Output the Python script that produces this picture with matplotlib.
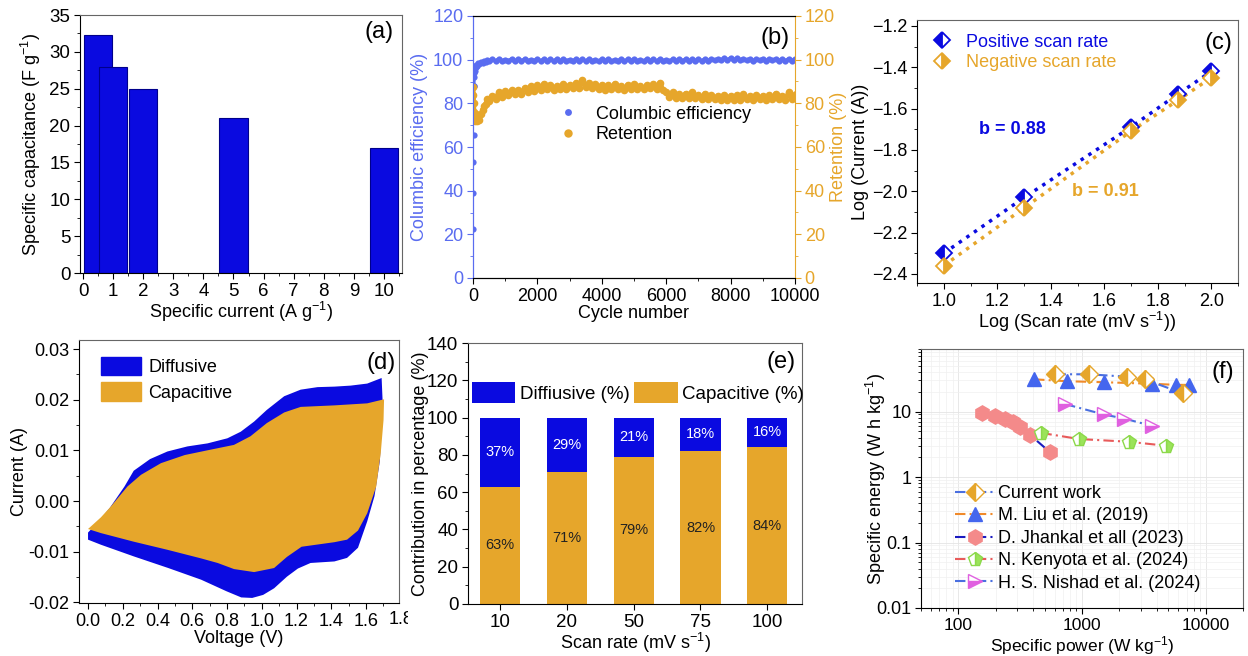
import numpy as np
import matplotlib
matplotlib.use("Agg")
import matplotlib.pyplot as plt
from matplotlib.patches import Patch
from matplotlib.transforms import Bbox
from matplotlib.ticker import (MultipleLocator, FixedLocator, FixedFormatter, LogLocator,
                               NullFormatter, FormatStrFormatter)

plt.rcParams["font.family"] = ["Liberation Sans", "DejaVu Sans"]
plt.rcParams["mathtext.fontset"] = "custom"
plt.rcParams["mathtext.rm"] = "Liberation Sans"
plt.rcParams["mathtext.default"] = "regular"
plt.rcParams["font.size"] = 13
plt.rcParams["xtick.direction"] = "out"
plt.rcParams["ytick.direction"] = "out"
plt.rcParams["xtick.major.size"] = 4.5
plt.rcParams["ytick.major.size"] = 4.5
plt.rcParams["xtick.minor.size"] = 2.5
plt.rcParams["ytick.minor.size"] = 2.5
plt.rcParams["xtick.major.pad"] = 2.5
plt.rcParams["ytick.major.pad"] = 2.5

BLUE = "#0a0ae0"
ORANGE = "#e6a62b"
LBLUE = "#5a6cf0"

# ---------------- (a) specific capacitance ----------------
cur_density = [0.5, 1, 2, 5, 10]
capacitance = [32.3, 28.0, 25.0, 21.0, 17.0]

# ---------------- (b) cycling ----------------
ce_early_cyc = [5, 10, 15, 20, 25, 30, 40, 50, 60, 80, 100, 130, 160, 200, 250, 300, 350, 400, 450]
ce_early = [22.5, 39, 53, 65.5, 88, 92, 94, 95, 96, 96.5, 97.5, 97, 98.5, 98, 99, 98.6, 99.5, 99, 99.8]
ce_main = [99.3, 100.1, 99.5, 100.2, 99.4, 100.0, 99.6, 100.3, 99.4, 100.1,
           99.5, 100.2, 99.4, 100.0, 99.6, 100.3, 99.5, 100.1, 99.4, 100.2,
           99.5, 100.1, 99.3, 100.2, 99.6, 100.0, 99.4, 100.3, 99.5, 100.1,
           99.4, 100.2, 99.5, 100.0, 99.3, 100.1, 99.6, 100.2, 99.4, 100.0,
           99.5, 100.3, 99.4, 100.1, 99.6, 100.2, 99.5, 100.0, 99.4, 100.2,
           99.6, 100.1, 99.4, 100.3, 99.5, 100.0, 99.4, 100.2, 99.6, 100.1,
           99.5, 100.2, 99.4, 100.1, 99.6, 100.3, 99.5, 100.2, 99.6, 100.4,
           99.7, 100.3, 99.8, 100.6, 99.9, 100.8, 100.0, 100.6, 99.8, 100.5,
           99.7, 100.4, 99.6, 100.3, 99.7, 100.5, 99.6, 100.3, 99.7, 100.4,
           99.6, 100.3, 99.5, 100.4, 99.6, 100.2]
ret_early_cyc = [1, 10, 20, 30, 50, 70, 100, 130, 160, 200, 250, 300, 350, 400, 450]
ret_early = [87.5, 84, 80, 76, 74, 72, 75, 72, 74.5, 72.5, 75, 77, 79, 79.5, 82]
ret_main = [81, 83.5, 82, 85, 83, 85.5, 84, 86, 84.5, 86,
            84.5, 87, 85, 88, 85.5, 88.5, 86, 89, 86.5, 88.5,
            86, 88, 86.5, 89, 86.5, 88.5, 87, 89.5, 87, 90.5,
            87.5, 89.5, 87, 89, 86.5, 88.5, 86, 88.5, 86.5, 89,
            86.5, 88, 86, 88.5, 86.5, 89, 86.5, 88, 86.5, 88.5,
            87, 89, 86.5, 89.5, 86, 85, 83, 85, 82.5, 84.5,
            82.5, 84.5, 82.5, 85, 82.5, 84, 82, 84.5, 82, 84,
            82, 83.5, 81.5, 84, 81.5, 83.5, 81.5, 84, 81.5, 84.5,
            82, 83.5, 81.5, 84, 82, 83.5, 81.5, 84, 82, 84.5,
            82, 83.5, 81.5, 85, 82, 84]
main_cyc = list(range(500, 10001, 100))

# ---------------- (c) b-value ----------------
log_scan = [1.0, 1.301, 1.699, 1.875, 2.0]
log_i_pos = [-2.30, -2.03, -1.69, -1.53, -1.42]
log_i_neg = [-2.36, -2.08, -1.71, -1.56, -1.45]

# ---------------- (d) CV separation (outline of total and capacitive loops) ----------------
tot_v = [0.00, 0.074, 0.126, 0.21, 0.263, 0.357, 0.457, 0.572, 0.688, 0.802, 0.879, 0.956, 1.029,
         1.129, 1.224, 1.321, 1.418, 1.512, 1.607, 1.69,
         1.696, 1.68, 1.649, 1.607, 1.554, 1.491, 1.418, 1.281, 1.208, 1.145, 1.071, 1.008, 0.945,
         0.882, 0.798, 0.651, 0.462, 0.263, 0.074, 0.0]
tot_i = [-0.0062, -0.0035, -0.0013, 0.0029, 0.0060, 0.0083, 0.0098, 0.0108, 0.0114, 0.0124, 0.0137,
         0.0157, 0.0180, 0.0207, 0.0220, 0.0225, 0.0226, 0.0228, 0.0232, 0.0243,
         0.0195, 0.0080, 0.0010, -0.0040, -0.0092, -0.0112, -0.0119, -0.0122, -0.0133, -0.0149,
         -0.0172, -0.0185, -0.0191, -0.0190, -0.0178, -0.0155, -0.0132, -0.0109, -0.0086, -0.0076]
cap_v = [0.00, 0.074, 0.13, 0.227, 0.305, 0.42, 0.557, 0.683, 0.84, 0.935, 1.029, 1.129, 1.224,
         1.418, 1.607, 1.704, 1.701, 1.685, 1.659, 1.607, 1.554, 1.491, 1.418, 1.229, 1.145, 1.071,
         0.956, 0.84, 0.746, 0.651, 0.457, 0.263, 0.074, 0.0]
cap_i = [-0.0055, -0.0032, -0.0011, 0.0029, 0.0052, 0.0075, 0.0091, 0.0100, 0.0111, 0.0128, 0.0154,
         0.0175, 0.0186, 0.0189, 0.0193, 0.0201, 0.0160, 0.0095, 0.0029, -0.0024, -0.0058, -0.0076,
         -0.0081, -0.0090, -0.0110, -0.0132, -0.0140, -0.0134, -0.0122, -0.0113, -0.0096, -0.0080,
         -0.0063, -0.0055]

# ---------------- (e) contributions ----------------
scan_labels = ["10", "20", "50", "75", "100"]
capacitive_pct = [63, 71, 79, 82, 84]
diffusive_pct = [37, 29, 21, 18, 16]

# ---------------- (f) Ragone ----------------
cw_p = [610, 1130, 2300, 3200, 6500]
cw_e = [37, 37, 34, 31, 19]
liu_p = [410, 750, 1500, 3700, 5800, 7300]
liu_e = [31, 29, 28, 26.5, 25.5, 25.5]
jh_p = [157, 198, 239, 279, 316, 380, 550]
jh_e = [9.45, 8.4, 7.8, 7.0, 5.8, 4.4, 2.4]
ken_p = [470, 950, 2400, 4800]
ken_e = [4.7, 3.8, 3.45, 3.0]
nis_p = [730, 1500, 2200, 3700]
nis_e = [13, 9, 7.8, 6.0]

W, H = 1248, 656
fig = plt.figure(figsize=(W / 100, H / 100), dpi=100)


def box(l, t, r, b):
    return [l / W, 1 - b / H, (r - l) / W, (b - t) / H]


def frame(ax):
    for s in ["top", "right"]:
        ax.spines[s].set_color("#666666")
    ax.tick_params(which="both", top=False, right=False)


def tag(ax, s, x, y):
    ax.text(x, y, s, transform=ax.transAxes, ha="right", va="top", fontsize=17)


# (a)
ax = fig.add_axes(box(80, 15, 402, 273))
ax.bar(cur_density, capacitance, width=0.95, color=BLUE, edgecolor="#00008b", linewidth=0.8)
ax.set_xlim(-0.1, 10.6)
ax.set_ylim(0, 35)
ax.xaxis.set_major_locator(MultipleLocator(1))
ax.xaxis.set_minor_locator(MultipleLocator(0.5))
ax.yaxis.set_major_locator(MultipleLocator(5))
ax.yaxis.set_minor_locator(MultipleLocator(2.5))
ax.tick_params(labelsize=13.5)
ax.set_xlabel(r"Specific current (A g$^{-1}$)", labelpad=0)
ax.set_ylabel(r"Specific capacitance (F g$^{-1}$)")
ax.yaxis.set_label_coords(-0.115, 0.5)
frame(ax)
tag(ax, "(a)", 0.975, 0.975)

# (b)
ax = fig.add_axes(box(473, 16, 795, 278))
ax2 = ax.twinx()
ax.plot(ce_early_cyc[:5], ce_early[:5], "o", ms=4.5, mew=0, color=LBLUE)
ax.plot(ce_early_cyc[4:] + main_cyc, ce_early[4:] + ce_main, "-", lw=2.5, color=LBLUE)
h1, = ax.plot(ce_early_cyc[4:] + main_cyc, ce_early[4:] + ce_main, "o", ms=4.5, mew=0, color=LBLUE,
              label="Columbic efficiency")
ax2.plot(ret_early_cyc + main_cyc, ret_early + ret_main, "-", lw=3.5, color=ORANGE)
h2, = ax2.plot(ret_early_cyc + main_cyc, ret_early + ret_main, "o", ms=5.5, mew=0, color=ORANGE,
               label="Retention")
ax.set_xlim(0, 10000)
ax.set_ylim(0, 120)
ax2.set_ylim(0, 120)
ax.xaxis.set_major_locator(MultipleLocator(2000))
ax.xaxis.set_minor_locator(MultipleLocator(1000))
for a in (ax, ax2):
    a.yaxis.set_major_locator(MultipleLocator(20))
    a.yaxis.set_minor_locator(MultipleLocator(10))
    a.tick_params(labelsize=13)
ax.tick_params(axis="y", which="both", colors=LBLUE)
ax2.tick_params(axis="y", which="both", colors=ORANGE)
ax.tick_params(axis="x", which="both", top=False)
ax.spines["left"].set_color(LBLUE)
ax2.spines["left"].set_color(LBLUE)
ax2.spines["right"].set_color(ORANGE)
ax.spines["right"].set_visible(False)
ax.set_xlabel("Cycle number", labelpad=0)
ax.set_ylabel("Columbic efficiency (%)", color=LBLUE)
ax.yaxis.set_label_coords(-0.14, 0.5)
ax2.set_ylabel("Retention (%)", color=ORANGE)
ax2.yaxis.set_label_coords(1.109, 0.5)
ax.legend(handles=[h1, h2], loc="upper left", bbox_to_anchor=(0.19, 0.72), frameon=False,
          handletextpad=0.5, labelspacing=0.2, markerscale=1.1, fontsize=13)
tag(ax, "(b)", 0.984, 0.958)

# (c)
ax = fig.add_axes(box(917, 20, 1238, 283))
ax.plot(log_scan, log_i_pos, ":", color=BLUE, lw=2.5, zorder=2)
ax.plot(log_scan, log_i_neg, ":", color=ORANGE, lw=2.5, zorder=2)
ax.plot(log_scan, log_i_pos, "D", ms=8.5, fillstyle="left", color=BLUE, markerfacecoloralt="white",
        mew=1.3, zorder=3, label="Positive scan rate")
ax.plot(log_scan, log_i_neg, "D", ms=8.5, fillstyle="right", color=ORANGE, markerfacecoloralt="white",
        mew=1.3, zorder=3, label="Negative scan rate")
ax.set_xlim(0.9, 2.1)
ax.set_ylim(-2.444, -1.171)
ax.xaxis.set_major_locator(MultipleLocator(0.2))
ax.xaxis.set_minor_locator(MultipleLocator(0.1))
ax.yaxis.set_major_locator(MultipleLocator(0.2))
ax.yaxis.set_minor_locator(MultipleLocator(0.1))
ax.tick_params(labelsize=13)
ax.set_xlabel(r"Log (Scan rate (mV s$^{-1}$))", labelpad=0)
ax.set_ylabel("Log (Current (A))")
ax.yaxis.set_label_coords(-0.15, 0.5)
leg = ax.legend(loc="upper left", bbox_to_anchor=(0.0, 1.01), frameon=False, handlelength=1.0,
                handletextpad=0.8, labelspacing=0.2, fontsize=13)
leg.get_texts()[0].set_color(BLUE)
leg.get_texts()[1].set_color(ORANGE)
ax.text(1.13, -1.70, "b = 0.88", color=BLUE, fontsize=13, fontweight="bold", va="center")
ax.text(1.48, -2.0, "b = 0.91", color=ORANGE, fontsize=13, fontweight="bold", va="center")
frame(ax)
tag(ax, "(c)", 0.984, 0.954)

# (d)
ax = fig.add_axes(box(79, 340, 399, 603))
ax.fill(tot_v, tot_i, color=BLUE, lw=0)
ax.fill(cap_v, cap_i, color=ORANGE, lw=0)
ax.set_xlim(-0.052, 1.79)
ax.set_ylim(-0.0201, 0.0318)
ax.xaxis.set_major_locator(FixedLocator([0.0, 0.2, 0.4, 0.6, 0.8, 1.0, 1.2, 1.4, 1.6]))
ax.xaxis.set_minor_locator(MultipleLocator(0.1))
ax.yaxis.set_major_locator(MultipleLocator(0.01))
ax.yaxis.set_minor_locator(MultipleLocator(0.005))
ax.yaxis.set_major_formatter(FormatStrFormatter("%.2f"))
ax.xaxis.set_major_formatter(FormatStrFormatter("%.1f"))
ax.tick_params(labelsize=13)
ax.set_xlabel("Voltage (V)", labelpad=0)
ax.set_ylabel("Current (A)")
ax.yaxis.set_label_coords(-0.159, 0.5)
# the 1.8 tick label sits on the right edge and is cut by the panel border in the source
t18 = fig.text(389 / W, 1 - 611 / H, "1.8", ha="left", va="top", fontsize=13)
t18.set_clip_box(Bbox.from_extents(0, 0, 408, H))
t18.set_clip_on(True)
ax.legend(handles=[Patch(color=BLUE, label="Diffusive"), Patch(color=ORANGE, label="Capacitive")],
          loc="upper left", bbox_to_anchor=(0.03, 0.985), frameon=False, handlelength=2.2,
          handleheight=1.2, handletextpad=0.4, labelspacing=0.35, fontsize=13, borderpad=0.2)
frame(ax)
tag(ax, "(d)", 0.99, 0.954)

# (e)
ax = fig.add_axes(box(468, 343, 802, 604))
pos = np.arange(len(scan_labels))
ax.bar(pos, capacitive_pct, width=0.6, color=ORANGE, label="Capacitive (%)")
ax.bar(pos, diffusive_pct, width=0.6, bottom=capacitive_pct, color=BLUE, label="Diffiusive (%)")
for x, c, d in zip(pos, capacitive_pct, diffusive_pct):
    ax.text(x, c / 2, f"{c}%", ha="center", va="center", fontsize=10.5, color="#222222")
    ax.text(x, c + d / 2, f"{d}%", ha="center", va="center", fontsize=10.5, color="white")
ax.set_xlim(-0.48, 4.52)
ax.set_ylim(0, 140)
ax.set_xticks(pos)
ax.set_xticklabels(scan_labels)
ax.yaxis.set_major_locator(MultipleLocator(20))
ax.yaxis.set_minor_locator(MultipleLocator(10))
ax.tick_params(labelsize=13.5)
ax.set_xlabel(r"Scan rate (mV s$^{-1}$)", labelpad=0)
ax.set_ylabel("Contribution in percentage (%)")
ax.yaxis.set_label_coords(-0.117, 0.5)
hs, ls = ax.get_legend_handles_labels()
ax.legend(hs[::-1], ls[::-1], loc="upper left", bbox_to_anchor=(-0.038, 0.917), ncol=2, frameon=False,
          handlelength=2.3, handleheight=1.4, handletextpad=0.25, columnspacing=0.25, fontsize=13.5)
frame(ax)
tag(ax, "(e)", 0.982, 0.97)

# (f)
ax = fig.add_axes(box(921, 349, 1243, 608))
ax.set_xscale("log")
ax.set_yscale("log")
ax.grid(True, which="major", color="#e4e4e4", lw=0.6)
ax.grid(True, which="minor", color="#f0f0f0", lw=0.5)
ax.set_axisbelow(True)
dd = (0, (5, 2, 1, 2))
ax.plot(cw_p, cw_e, linestyle=dd, color="#4a6fe0", lw=1.5, marker="D", ms=9, fillstyle="left",
        mfc=ORANGE, mec=ORANGE, markerfacecoloralt="white", label="Current work", zorder=4)
ax.plot(liu_p, liu_e, linestyle=dd, color="#f08a2a", lw=1.5, marker="^", ms=10, mfc="#4466ee",
        mec="#4466ee", label="M. Liu et al. (2019)", zorder=3)
ax.plot(jh_p, jh_e, linestyle=dd, color="#1a1ac0", lw=1.5, marker="h", ms=11, mfc="#f48a8a",
        mec="#f48a8a", label="D. Jhankal et all (2023)", zorder=3)
ax.plot(ken_p, ken_e, linestyle=dd, color="#e85a5a", lw=1.5, marker="p", ms=10, fillstyle="right",
        mfc="#9be35a", mec="#8cd94a", markerfacecoloralt="white", label="N. Kenyota et al. (2024)", zorder=3)
ax.plot(nis_p, nis_e, linestyle=dd, color="#4a6fe0", lw=1.5, marker=">", ms=10, fillstyle="bottom",
        mfc="#e060e0", mec="#e060e0", markerfacecoloralt="white", label="H. S. Nishad et al. (2024)",
        zorder=3)
ax.set_xlim(50, 20000)
ax.set_ylim(0.01, 90)
ax.xaxis.set_major_locator(FixedLocator([100, 1000, 10000]))
ax.xaxis.set_major_formatter(FixedFormatter(["100", "1000", "10000"]))
ax.yaxis.set_major_locator(FixedLocator([0.01, 0.1, 1, 10]))
ax.yaxis.set_major_formatter(FixedFormatter(["0.01", "0.1", "1", "10"]))
ax.xaxis.set_minor_locator(LogLocator(subs=np.arange(2, 10)))
ax.yaxis.set_minor_locator(LogLocator(subs=np.arange(2, 10)))
ax.xaxis.set_minor_formatter(NullFormatter())
ax.yaxis.set_minor_formatter(NullFormatter())
ax.tick_params(labelsize=13)
ax.tick_params(axis="x", which="major", labelsize=12.5, pad=2.5)
ax.set_xlabel(r"Specific power (W kg$^{-1}$)", fontsize=12.5)
ax.xaxis.set_label_coords(0.5, -0.1)
ax.set_ylabel(r"Specific energy (W h kg$^{-1}$)")
ax.yaxis.set_label_coords(-0.102, 0.5)
ax.legend(loc="lower left", bbox_to_anchor=(0.055, 0.0), frameon=False, handlelength=2.2,
          handletextpad=0.2, labelspacing=0.3, fontsize=13)
frame(ax)
tag(ax, "(f)", 0.972, 0.954)

fig.savefig("out.png", dpi=100)
